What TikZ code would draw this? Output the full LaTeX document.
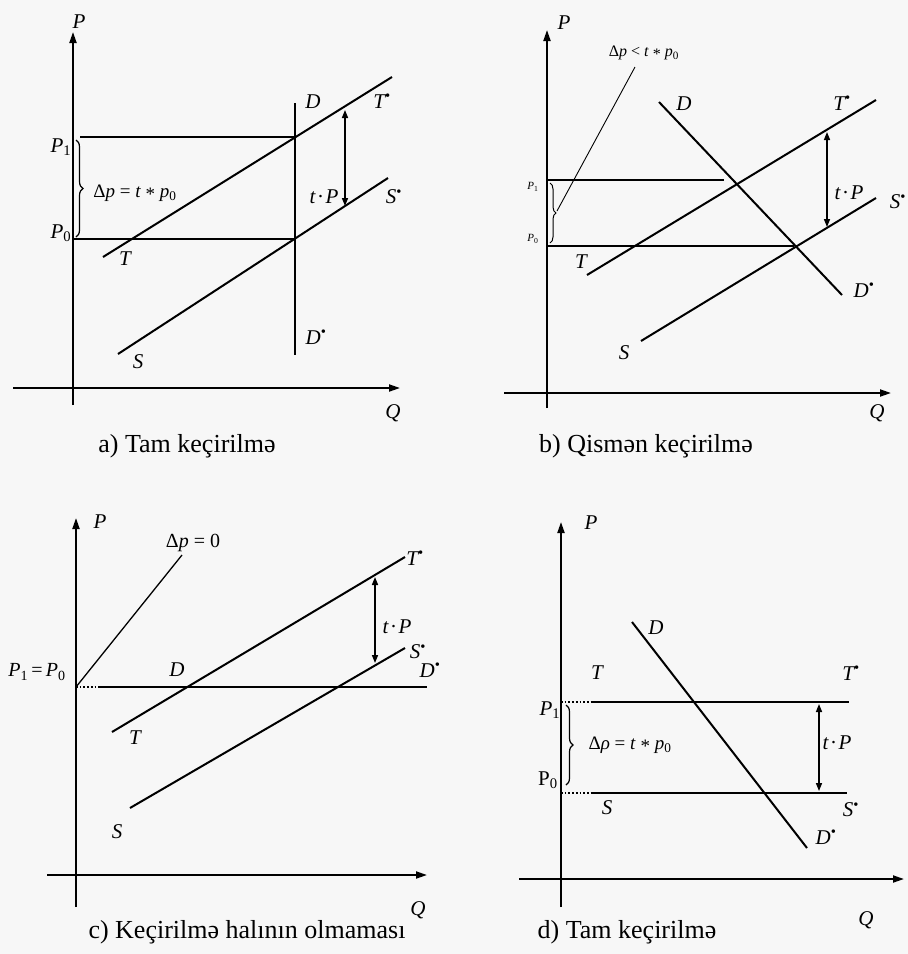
\documentclass[tikz,border=0pt]{standalone}
\usepackage{fontspec}
\setmainfont{Liberation Serif}
\usetikzlibrary{arrows.meta,decorations.pathreplacing}
\newcommand{\mysup}{\textsuperscript{\upshape•}}
\newcommand{\mystar}{\raisebox{-0.35ex}{*}}
\newcommand{\tdotp}{t\hspace{1.5pt}{\upshape·}\hspace{1.5pt}P}
\begin{document}
\begin{tikzpicture}[x=1pt,y=-1pt,
  ink/.style={draw=black},
  axis/.style={ink,line width=1.9pt,-{Triangle[length=11pt,width=7pt]}},
  curve/.style={ink,line width=2pt},
  thinline/.style={ink,line width=1.1pt},
  dotline/.style={ink,line width=1.7pt,dotted},
  tparrow/.style={ink,line width=1.5pt,{Triangle[length=8pt,width=6pt]}-{Triangle[length=8pt,width=6pt]}},
  lbl/.style={font=\fontsize{21}{23}\selectfont\itshape,inner sep=0pt,text=black},
  smalllbl/.style={font=\fontsize{19}{21}\selectfont,inner sep=0pt,text=black},
  tinylbl/.style={font=\fontsize{11}{12}\selectfont\itshape,inner sep=0pt,text=black},
  captext/.style={font=\fontsize{26}{28}\selectfont,inner sep=0pt,text=black},
  bracestyle/.style={ink,line width=1.2pt,decorate,decoration={brace,mirror,amplitude=7pt}}
]
\fill[black!3] (0,0) rectangle (908,954);
\useasboundingbox (0,0) rectangle (908,954);

% ================= panel a =================
\coordinate (aPb) at (73,405); \coordinate (aPt) at (73,32);
\coordinate (aQl) at (13,388); \coordinate (aQr) at (400,388);
\draw[axis] (aPb) -- (aPt);
\draw[axis] (aQl) -- (aQr);
\coordinate (aP1l) at (80,137); \coordinate (aP1r) at (295,137);
\coordinate (aP0l) at (73,239); \coordinate (aP0r) at (295,239);
\draw[thinline] (aP1l) -- (aP1r);
\draw[thinline] (aP0l) -- (aP0r);
\coordinate (aDt) at (295,103); \coordinate (aDb) at (295,355);
\draw[curve] (aDt) -- (aDb);
\coordinate (aT0) at (103,257); \coordinate (aT1) at (392,77);
\draw[curve] (aT0) -- (aT1);
\coordinate (aS0) at (118,354); \coordinate (aS1) at (388,178);
\draw[curve] (aS0) -- (aS1);
\coordinate (aAt) at (345,110); \coordinate (aAb) at (345,206);
\draw[tparrow] (aAt) -- (aAb);
\coordinate (aBb) at (76,237); \coordinate (aBt) at (76,140);
\draw[bracestyle] (aBb) -- (aBt);
\node[lbl] (aP) at (79,22) {P};
\node[lbl] (aQ) at (393,413) {Q};
\node[lbl] (aD) at (313,102) {D};
\node[lbl] (aTs) at (382,101) {T\mysup};
\node[lbl] (aSs) at (394,197) {S\mysup};
\node[lbl] (atP) at (324,197) {\tdotp};
\node[lbl] (aDs) at (316,337) {D\mysup};
\node[lbl] (aT) at (125,259) {T};
\node[lbl] (aS) at (138,362) {S};
\node[lbl] (aP1) at (61,147) {P\textsubscript{\upshape 1}};
\node[lbl] (aP0) at (61,233) {P\textsubscript{\upshape 0}};
\node[smalllbl] (adp) at (135,193) {Δ\textit{p} = \textit{t} \mystar{} \textit{p}\textsubscript{0}};
\node[captext] (acap) at (187,446) {a) Tam keçirilmə};

% ================= panel b =================
\coordinate (bPb) at (547,408); \coordinate (bPt) at (547,30);
\coordinate (bQl) at (504,393); \coordinate (bQr) at (891,393);
\draw[axis] (bPb) -- (bPt);
\draw[axis] (bQl) -- (bQr);
\coordinate (bP1l) at (547,180); \coordinate (bP1r) at (724,180);
\coordinate (bP0l) at (547,246); \coordinate (bP0r) at (794,246);
\draw[thinline] (bP1l) -- (bP1r);
\draw[thinline] (bP0l) -- (bP0r);
\coordinate (bD0) at (659,102); \coordinate (bD1) at (842,295);
\draw[curve] (bD0) -- (bD1);
\coordinate (bT0) at (587,275); \coordinate (bT1) at (876,100);
\draw[curve] (bT0) -- (bT1);
\coordinate (bS0) at (641,341); \coordinate (bS1) at (876,198);
\draw[curve] (bS0) -- (bS1);
\coordinate (bAt) at (827,132); \coordinate (bAb) at (827,227);
\draw[tparrow] (bAt) -- (bAb);
\coordinate (bBb) at (550,243); \coordinate (bBt) at (550,183);
\draw[bracestyle,line width=1pt,decoration={amplitude=6pt}] (bBb) -- (bBt);
\coordinate (bPtr0) at (635,67); \coordinate (bPtr1) at (557,211);
\draw[thinline,line width=0.9pt] (bPtr0) -- (bPtr1);
\node[lbl] (bP) at (564,23) {P};
\node[lbl] (bQ) at (877,413) {Q};
\node[lbl] (bD) at (684,104) {D};
\node[lbl] (bTs) at (842,103) {T\mysup};
\node[lbl] (bSs) at (898,202) {S\mysup};
\node[lbl] (btP) at (849,193) {\tdotp};
\node[lbl] (bDs) at (864,290) {D\mysup};
\node[lbl] (bT) at (581,262) {T};
\node[lbl] (bS) at (624,353) {S};
\node[tinylbl] (bP1) at (533,187) {P\textsubscript{\upshape 1}};
\node[tinylbl] (bP0) at (533,239) {P\textsubscript{\upshape 0}};
\node[smalllbl,font=\fontsize{16}{18}\selectfont] (bdp) at (644,53) {Δ\textit{p} < \textit{t} \mystar{} \textit{p}\textsubscript{0}};
\node[captext] (bcap) at (646,446) {b) Qismən keçirilmə};

% ================= panel c =================
\coordinate (cPb) at (76,907); \coordinate (cPt) at (76,518);
\coordinate (cQl) at (47,875); \coordinate (cQr) at (427,875);
\draw[axis] (cPb) -- (cPt);
\draw[axis] (cQl) -- (cQr);
\coordinate (cDo) at (76,687); \coordinate (cDm) at (100,687); \coordinate (cDr) at (427,687);
\draw[dotline] (cDo) -- (cDm);
\draw[curve] (cDm) -- (cDr);
\coordinate (cL1) at (182,555);
\draw[thinline,line width=1.3pt] (cDo) -- (cL1);
\coordinate (cT0) at (112,732); \coordinate (cT1) at (405,557);
\draw[curve] (cT0) -- (cT1);
\coordinate (cS0) at (130,808); \coordinate (cS1) at (405,648);
\draw[curve] (cS0) -- (cS1);
\coordinate (cAt) at (375,577); \coordinate (cAb) at (375,663);
\draw[tparrow] (cAt) -- (cAb);
\node[lbl] (cP) at (100,522) {P};
\node[lbl] (cQ) at (418,910) {Q};
\node[lbl] (cTs) at (415,558) {T\mysup};
\node[lbl] (ctP) at (397,627) {\tdotp};
\node[lbl] (cSs) at (418,652) {S\mysup};
\node[lbl] (cDs) at (430,670) {D\mysup};
\node[lbl] (cD) at (177,670) {D};
\node[lbl] (cT) at (135,738) {T};
\node[lbl] (cS) at (117,832) {S};
\node[lbl,font=\fontsize{20}{22}\selectfont\itshape] (cP10) at (37,672) {P\textsubscript{\upshape 1}{\upshape\,=\,}P\textsubscript{\upshape 0}};
\node[smalllbl,font=\fontsize{20}{22}\selectfont] (cdp) at (193,543) {Δ\textit{p} = 0};
\node[captext] (ccap) at (247,932) {c) Keçirilmə halının olmaması};

% ================= panel d =================
\coordinate (dPb) at (561,907); \coordinate (dPt) at (561,522);
\coordinate (dQl) at (519,879); \coordinate (dQr) at (904,879);
\draw[axis] (dPb) -- (dPt);
\draw[axis] (dQl) -- (dQr);
\coordinate (dTo) at (561,702); \coordinate (dTm) at (591,702); \coordinate (dTr) at (849,702);
\draw[dotline] (dTo) -- (dTm);
\draw[curve] (dTm) -- (dTr);
\coordinate (dSo) at (561,793); \coordinate (dSm) at (591,793); \coordinate (dSr) at (847,793);
\draw[dotline] (dSo) -- (dSm);
\draw[curve] (dSm) -- (dSr);
\coordinate (dD0) at (632,622); \coordinate (dD1) at (807,848);
\draw[curve] (dD0) -- (dD1);
\coordinate (dAt) at (819,704); \coordinate (dAb) at (819,791);
\draw[tparrow] (dAt) -- (dAb);
\coordinate (dBb) at (566,785); \coordinate (dBt) at (566,705);
\draw[bracestyle] (dBb) -- (dBt);
\node[lbl] (dP) at (591,523) {P};
\node[lbl] (dQ) at (866,920) {Q};
\node[lbl] (dD) at (656,628) {D};
\node[lbl] (dT) at (597,673) {T};
\node[lbl] (dTs) at (851,673) {T\mysup};
\node[lbl] (dP1) at (550,710) {P\textsubscript{\upshape 1}};
\node[lbl,font=\fontsize{21}{23}\selectfont] (dP0) at (548,780) {P\textsubscript{0}};
\node[smalllbl] (ddp) at (630,745) {Δ\textit{ρ} = \textit{t} \mystar{} \textit{p}\textsubscript{0}};
\node[lbl] (dtP) at (837,743) {\tdotp};
\node[lbl] (dS) at (607,808) {S};
\node[lbl] (dSs) at (851,810) {S\mysup};
\node[lbl] (dDs) at (826,837) {D\mysup};
\node[captext] (dcap) at (627,932) {d) Tam keçirilmə};
\end{tikzpicture}
\end{document}
